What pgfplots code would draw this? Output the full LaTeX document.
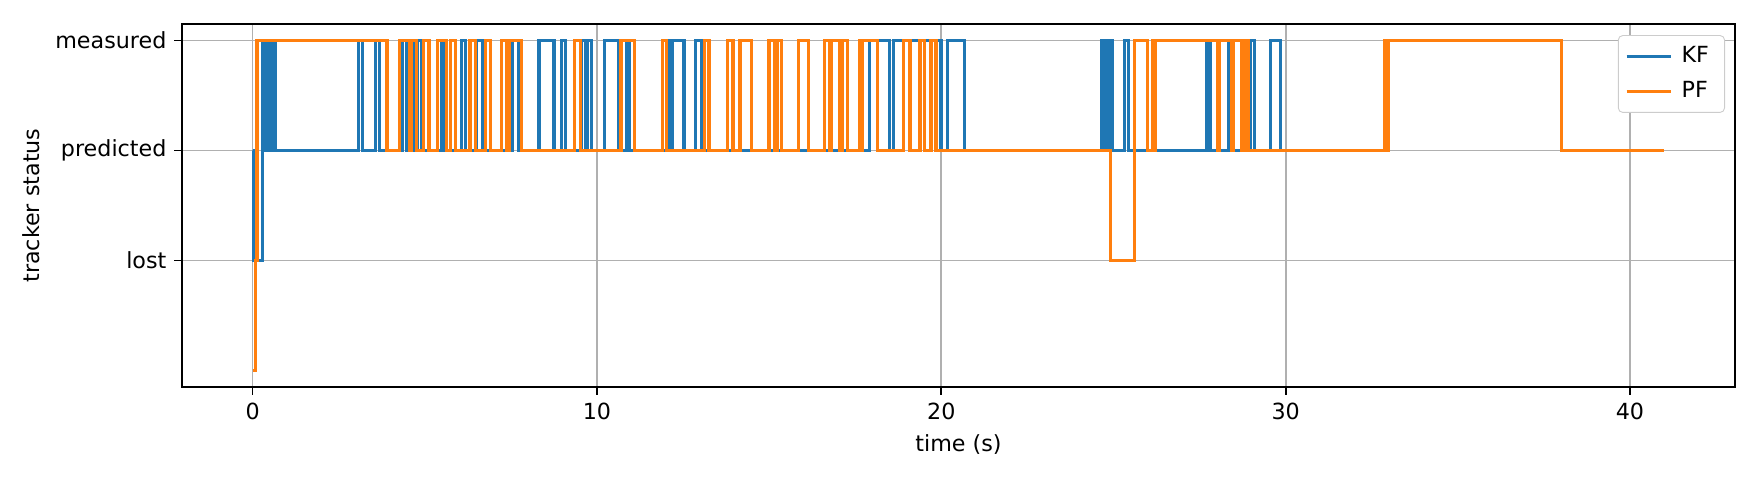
\documentclass[border=0pt]{standalone}
\usepackage{fontspec}
\setmainfont{DejaVu Sans}
\usepackage{pgfplots}
\pgfplotsset{compat=1.18}

\definecolor{kfblue}{HTML}{1F77B4}
\definecolor{pforange}{HTML}{FF7F0E}
\definecolor{gridgray}{HTML}{B0B0B0}

\begin{document}
\begin{tikzpicture}
\begin{axis}[
  scale only axis,
  width=698.8pt, height=163.4pt,
  xmin=-2.05, xmax=43.05,
  ymin=-0.15, ymax=3.15,
  xtick={0,10,20,30,40},
  ytick={1,2,3},
  yticklabels={lost,predicted,measured},
  xlabel={time (s)},
  ylabel={tracker status},
  grid=major,
  major grid style={gridgray, line width=0.8pt},
  axis line style={line width=0.8pt},
  tick align=outside,
  tick pos=left,
  major tick length=3.5pt,
  tick style={line width=0.8pt, black},
  /pgf/number format/assume math mode=true,
  tick label style={font=\fontsize{10}{12}\selectfont},
  label style={font=\fontsize{10}{12}\selectfont},
  legend style={at={(1,1)}, anchor=north east, xshift=-4.5pt, yshift=-5pt,
    draw=black!20, rounded corners=2pt, font=\fontsize{10}{12}\selectfont,
    inner xsep=3pt, inner ysep=3pt, row sep=3pt,
    nodes={inner xsep=4pt}},
  legend cell align=left,
  legend image code/.code={\draw[#1] (0pt,0pt) -- (20pt,0pt);},
]
\coordinate (ll) at (rel axis cs:0,0);
\coordinate (ur) at (rel axis cs:1,1);

% KF
\addplot[const plot, kfblue, line width=1.5pt] coordinates {
(0,2) (0.02,1) (0.28,3) (0.34,2) (0.40,3) (0.44,2) (0.51,3) (0.55,2) (0.62,3) (0.66,2)
(3.07,3) (3.19,2) (3.57,3) (3.69,2)
(4.34,3) (4.48,2) (4.64,3) (4.70,2) (4.79,3) (4.92,2) (5.50,3) (5.59,2) (6.06,3) (6.19,2)
(6.51,3) (6.69,2) (7.53,3) (7.72,2)
(8.32,3) (8.75,2) (8.97,3) (9.08,2) (9.56,3) (9.66,2) (9.72,3) (9.84,2)
(10.22,3) (10.62,2) (10.86,3) (10.93,2)
(12.02,3) (12.10,2) (12.18,3) (12.53,2) (12.87,3) (13.03,2)
(17.91,3) (18.49,2) (18.61,3) (19.99,2) (20.18,3) (20.67,2)
(24.66,3) (24.72,2) (24.76,3) (24.84,2) (24.88,3) (24.97,2) (25.32,3) (25.43,2)
(27.72,3) (27.82,2) (28.35,3) (28.44,2) (28.98,3) (29.10,2) (29.57,3) (29.85,2)
(31.04,2)
};
\addlegendentry{KF}

% PF
\addplot[const plot, pforange, line width=1.5pt] coordinates {
(0,0) (0.09,1) (0.13,3) (3.90,2) (4.27,3) (4.55,2) (4.62,3) (4.76,2) (4.96,3) (5.12,2)
(5.36,3) (5.63,2) (5.74,3) (5.89,2) (6.31,3) (6.47,2) (6.76,3) (6.90,2) (7.22,3) (7.39,2)
(7.47,3) (7.81,2)
(9.35,3) (9.52,2) (10.70,3) (11.10,2) (11.90,3) (12.02,2) (13.13,3) (13.25,2)
(13.80,3) (13.95,2) (14.15,3) (14.48,2) (15.00,3) (15.16,2) (15.23,3) (15.35,2)
(15.86,3) (16.14,2) (16.60,3) (16.75,2) (16.80,3) (17.05,2) (17.13,3) (17.27,2)
(17.62,3) (17.68,2) (17.72,3) (18.15,2)
(18.90,3) (19.09,2) (19.38,3) (19.51,2) (19.70,3) (19.85,2)
(24.92,1) (25.62,3) (25.98,2) (26.13,3) (26.17,2) (26.22,3) (28.02,2) (28.06,3)
(28.44,2) (28.49,3) (28.73,2) (28.83,3) (28.93,2)
(32.89,3) (32.95,2) (32.99,3) (38.01,2) (40.99,2)
};
\addlegendentry{PF}
\end{axis}
\pgfresetboundingbox
\path[use as bounding box] ([shift={(-81.9pt,-41.85pt)}]ll) rectangle ([shift={(11.25pt,10.8pt)}]ur);
\end{tikzpicture}
\end{document}
